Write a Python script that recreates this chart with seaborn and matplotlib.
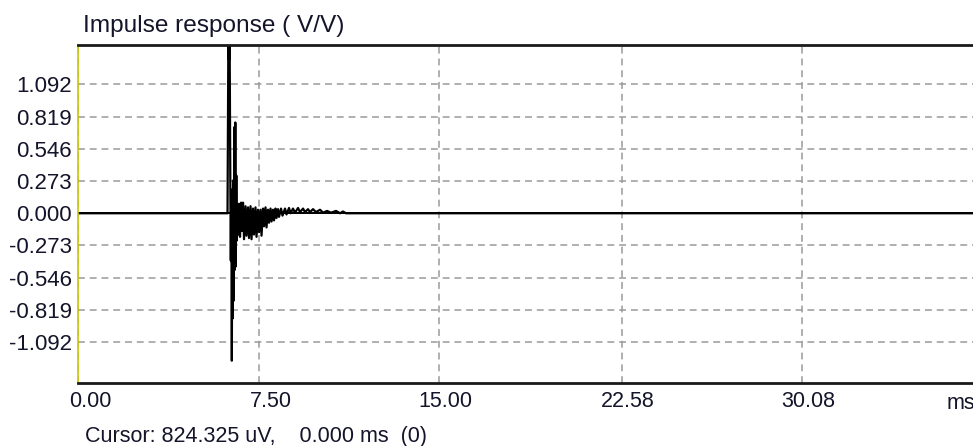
import matplotlib
matplotlib.use("Agg")
import matplotlib.pyplot as plt
import matplotlib.transforms as mtransforms
import seaborn as sns
import pandas as pd

# impulse response (time in ms, value in V/V)
time_ms = [0.0, 6.211, 6.253, 6.273, 6.294, 6.327, 6.348, 6.369, 6.390, 6.411,
           6.431, 6.452, 6.473, 6.494, 6.514, 6.535, 6.556, 6.577, 6.598, 6.627,
           6.660, 6.689, 6.730, 6.772, 6.813, 6.855, 6.897, 6.959, 7.000, 7.063,
           7.104, 7.167, 7.208, 7.270, 7.312, 7.374, 7.416, 7.478, 7.520, 7.582,
           7.624, 7.686, 7.728, 7.790, 7.831, 7.894, 7.935, 7.998, 8.039, 8.101,
           8.143, 8.205, 8.247, 8.309, 8.351, 8.434, 8.496, 8.600, 8.662, 8.766,
           8.829, 8.932, 9.015, 9.140, 9.223, 9.348, 9.431, 9.555, 9.638, 9.763,
           9.888, 10.054, 10.179, 10.345, 10.511, 10.719, 10.885, 11.009, 11.134, 37.5]
response = [0.0, 0.0, 1.75, 1.30, 1.70, 0.28, -0.40, 0.20, -1.25, 0.11,
            -0.89, 0.28, -0.74, 0.73, -0.48, 0.77, -0.45, 0.32, -0.23, 0.07,
            -0.18, 0.08, -0.20, 0.09, -0.15, 0.09, -0.22, 0.06, -0.19, 0.05,
            -0.21, 0.06, -0.22, 0.04, -0.18, 0.05, -0.20, 0.03, -0.16, 0.03,
            -0.19, 0.04, -0.11, 0.05, -0.12, 0.03, -0.08, 0.04, -0.07, 0.03,
            -0.06, 0.04, -0.04, 0.035, -0.03, 0.04, -0.02, 0.04, -0.01, 0.045,
            0.0, 0.04, 0.005, 0.045, 0.01, 0.04, 0.01, 0.035, 0.01, 0.035,
            0.01, 0.03, 0.005, 0.02, 0.005, 0.02, 0.0, 0.015, 0.0, 0.0]

x_ticks = [0.0, 7.50, 15.00, 22.58, 30.08]
x_labels = ["0.00", "7.50", "15.00", "22.58", "30.08"]
y_ticks = [-1.092, -0.819, -0.546, -0.273, 0.0, 0.273, 0.546, 0.819, 1.092]
y_labels = ["%.3f" % v for v in y_ticks]

df = pd.DataFrame({"t": time_ms, "v": response})

sns.set_theme(style="white")
plt.rcParams["font.family"] = ["Liberation Sans", "DejaVu Sans"]
txt_color = "#14142a"

fig = plt.figure(figsize=(9.73, 4.46), dpi=100)
ax = fig.add_axes([78 / 973, 1 - 383 / 446, 1 - 78 / 973, (383 - 44.5) / 446])

ax.grid(True, color="#9a9a9a", linewidth=1.1, linestyle=(0, (4.5, 3.2)))
ax.set_axisbelow(True)
ax.axhline(0, color="black", linewidth=1.4, zorder=1.5)

sns.lineplot(data=df, x="t", y="v", ax=ax, color="black", linewidth=1.6,
             estimator=None, sort=False, zorder=2)

ax.set_xlim(0, 37.18)
ax.set_ylim(-1.439, 1.431)
ax.set_xticks(x_ticks)
ax.set_xticklabels(x_labels)
ax.set_yticks(y_ticks)
ax.set_yticklabels(y_labels)
ax.set_xlabel("")
ax.set_ylabel("")
ax.tick_params(length=0, labelsize=15.5, colors=txt_color)
ax.tick_params(axis="y", pad=4.3, labelsize=16)
ax.tick_params(axis="x", pad=5.5)

# x labels sit right of their gridline
shift = mtransforms.ScaledTranslation(33 / 100, 0, fig.dpi_scale_trans)
for lbl in ax.get_xticklabels():
    lbl.set_horizontalalignment("right")
    lbl.set_transform(lbl.get_transform() + shift)

for side in ["top", "bottom"]:
    ax.spines[side].set_color("#1a1a1a")
    ax.spines[side].set_linewidth(2.0)
ax.spines["left"].set_color("#c8c800")
ax.spines["left"].set_linewidth(1.2)
ax.spines["right"].set_visible(False)

fig.text(83 / 973, 1 - 31.7 / 446, "Impulse response ( V/V)", fontsize=17.6,
         color=txt_color, va="baseline", ha="left")
fig.text(947 / 973, 1 - 409 / 446, "ms", fontsize=15.5, color=txt_color,
         va="baseline", ha="left")
fig.text(85 / 973, 1 - 442 / 446, "Cursor: 824.325 uV,    0.000 ms  (0)",
         fontsize=15.5, color=txt_color, va="baseline", ha="left")

fig.savefig("out.png", dpi=100)
plt.close(fig)
